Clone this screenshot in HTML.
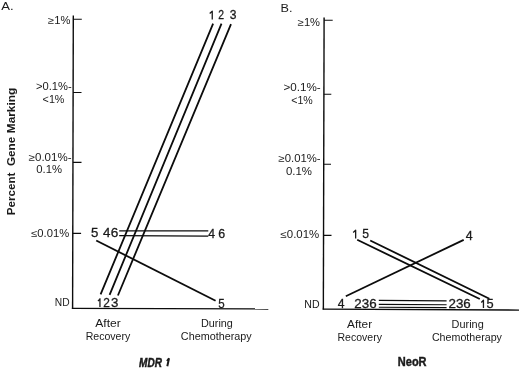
<!DOCTYPE html>
<html>
<head>
<meta charset="utf-8">
<title>Gene marking</title>
<style>
html,body{margin:0;padding:0;background:#fff;}
body{width:520px;height:368px;overflow:hidden;}
svg{display:block;}
text{font-family:"Liberation Sans",sans-serif;fill:#1a1a1a;}
.ln{stroke:#0c0c0c;stroke-width:1.8;fill:none;}
.th{stroke:#0c0c0c;stroke-width:1.2;fill:none;}
.ax{stroke:#0c0c0c;stroke-width:1.4;fill:none;}
.tk{stroke:#0c0c0c;stroke-width:1.15;fill:none;}
</style>
</head>
<body>
<svg width="520" height="368" viewBox="0 0 520 368">
<defs><filter id="tf" x="0" y="0" width="520" height="368" filterUnits="userSpaceOnUse"><feOffset dx="0" dy="0"/></filter></defs>
<rect width="520" height="368" fill="#fff"/>
<g id="lines">
<path class="ax" d="M73.3 15.5L72.6 308.9"/>
<path class="ax" d="M71.9 308.35L268.3 309" style="stroke-width:1.3"/>
<path class="tk" d="M73.3 19.25H81.8M73.1 92.45H81.5M72.95 162.3H81.5M72.8 233.4H81.1"/>
<path class="ln" d="M100.6 294.4L213.1 23.65M109.6 294.8L221.5 23.65M117.9 295.5L231 24.2"/>
<path class="th" d="M119.2 230.8L208.3 230.95M119.2 235.6L208.3 236.2"/>
<path class="ln" d="M96.2 240.5L215.6 300.8"/>
<path class="ax" d="M324.1 17.6L323.35 309.6"/>
<path class="ax" d="M322.65 309.1L519 310.05" style="stroke-width:1.3"/>
<path class="tk" d="M324.1 20.25H332.7M323.9 94.2H331.3M323.7 164.2H331M323.5 235.3H331.5"/>
<path class="ln" d="M357.2 239.8L479.8 299M370.2 240.5L489.4 298.7"/>
<path class="ln" d="M345.8 296.2L463.7 239.85"/>
<path class="th" d="M378.8 300.4L446.6 300.9M378.8 304.45L446.6 304.75M378.8 307.25L446.6 307.6"/>
</g>
<g id="texts" filter="url(#tf)">
<text id="A" x="1.32" y="9.89" textLength="12.38" lengthAdjust="spacingAndGlyphs" style="font-size:11.2px">A.</text>
<text id="l1" x="48.06" y="24.08" textLength="22.32" lengthAdjust="spacingAndGlyphs" style="font-size:10.2px">≥1%</text>
<text id="l2a" x="35.94" y="90.46" textLength="35.69" lengthAdjust="spacingAndGlyphs" style="font-size:10.2px">&gt;0.1%-</text>
<text id="l2b" x="42.64" y="102.73" textLength="21.81" lengthAdjust="spacingAndGlyphs" style="font-size:10.2px">&lt;1%</text>
<text id="l3a" x="28.71" y="160.83" textLength="42.80" lengthAdjust="spacingAndGlyphs" style="font-size:10.2px">≥0.01%-</text>
<text id="l3b" x="36.33" y="173.15" textLength="25.80" lengthAdjust="spacingAndGlyphs" style="font-size:10.2px">0.1%</text>
<text id="l4" x="31.20" y="237.37" textLength="38.02" lengthAdjust="spacingAndGlyphs" style="font-size:10.2px">≤0.01%</text>
<text id="lnd" x="54.75" y="305.95" textLength="14.81" lengthAdjust="spacingAndGlyphs" style="font-size:10px">ND</text>
<path id="t1" d="M209.70 13.45L212.25 11.15V19.40" style="fill:none;stroke:#1a1a1a;stroke-width:1.30;stroke-linejoin:round"/>
<text id="t2" x="218.33" y="19.13" textLength="5.77" lengthAdjust="spacingAndGlyphs" style="font-size:13px;stroke:#1a1a1a;stroke-width:0.3">2</text>
<text id="t3" x="229.75" y="19.06" textLength="6.72" lengthAdjust="spacingAndGlyphs" style="font-size:13px;stroke:#1a1a1a;stroke-width:0.3">3</text>
<path id="b1" d="M98.00 301.10L99.95 298.80V307.10" style="fill:none;stroke:#1a1a1a;stroke-width:1.30;stroke-linejoin:round"/>
<text id="b2" x="103.15" y="306.75" textLength="6.62" lengthAdjust="spacingAndGlyphs" style="font-size:13px;stroke:#1a1a1a;stroke-width:0.3">2</text>
<text id="b3" x="110.91" y="306.83" textLength="7.38" lengthAdjust="spacingAndGlyphs" style="font-size:13px;stroke:#1a1a1a;stroke-width:0.3">3</text>
<text id="m5" x="90.91" y="237.05" textLength="7.34" lengthAdjust="spacingAndGlyphs" style="font-size:13px;stroke:#1a1a1a;stroke-width:0.3">5</text>
<text id="m4" x="103.05" y="237.24" textLength="7.41" lengthAdjust="spacingAndGlyphs" style="font-size:13px;stroke:#1a1a1a;stroke-width:0.3">4</text>
<text id="m6" x="110.73" y="237.09" textLength="7.58" lengthAdjust="spacingAndGlyphs" style="font-size:13px;stroke:#1a1a1a;stroke-width:0.3">6</text>
<text id="r4" x="208.24" y="237.70" textLength="6.80" lengthAdjust="spacingAndGlyphs" style="font-size:13px;stroke:#1a1a1a;stroke-width:0.3">4</text>
<text id="r6" x="218.29" y="237.58" textLength="6.90" lengthAdjust="spacingAndGlyphs" style="font-size:13px;stroke:#1a1a1a;stroke-width:0.3">6</text>
<text id="r5" x="218.32" y="307.91" textLength="6.41" lengthAdjust="spacingAndGlyphs" style="font-size:13px;stroke:#1a1a1a;stroke-width:0.3">5</text>
<text id="xa1" x="95.26" y="326.56" textLength="25.48" lengthAdjust="spacingAndGlyphs" style="font-size:10.2px">After</text>
<text id="xa2" x="85.66" y="339.60" textLength="44.62" lengthAdjust="spacingAndGlyphs" style="font-size:10.2px">Recovery</text>
<text id="xa3" x="201.00" y="327.28" textLength="31.88" lengthAdjust="spacingAndGlyphs" style="font-size:10.2px">During</text>
<text id="xa4" x="180.89" y="340.47" textLength="70.87" lengthAdjust="spacingAndGlyphs" style="font-size:10.2px">Chemotherapy</text>
<text id="mdr" x="139.07" y="366.51" textLength="22.82" lengthAdjust="spacingAndGlyphs" style="font-size:12px;stroke:#1a1a1a;stroke-width:0.45;font-weight:bold;font-style:italic">MDR</text>
<path id="mdr1" d="M166.99 361.00L169.00 358.40L167.30 366.30" style="fill:none;stroke:#1a1a1a;stroke-width:2.00"/>
<text id="B" x="280.63" y="11.72" textLength="12.00" lengthAdjust="spacingAndGlyphs" style="font-size:11px">B.</text>
<text id="R1" x="297.77" y="26.20" textLength="22.30" lengthAdjust="spacingAndGlyphs" style="font-size:10.2px">≥1%</text>
<text id="R2a" x="283.55" y="91.43" textLength="37.16" lengthAdjust="spacingAndGlyphs" style="font-size:10.2px">&gt;0.1%-</text>
<text id="R2b" x="291.23" y="103.67" textLength="21.56" lengthAdjust="spacingAndGlyphs" style="font-size:10.2px">&lt;1%</text>
<text id="R3a" x="278.49" y="161.72" textLength="42.14" lengthAdjust="spacingAndGlyphs" style="font-size:10.2px">≥0.01%-</text>
<text id="R3b" x="285.99" y="174.70" textLength="26.07" lengthAdjust="spacingAndGlyphs" style="font-size:10.2px">0.1%</text>
<text id="R4" x="280.50" y="237.82" textLength="38.78" lengthAdjust="spacingAndGlyphs" style="font-size:10.2px">≤0.01%</text>
<text id="Rnd" x="304.25" y="307.65" textLength="15.30" lengthAdjust="spacingAndGlyphs" style="font-size:10.2px">ND</text>
<path id="q1" d="M353.20 232.50L355.65 230.20V238.50" style="fill:none;stroke:#1a1a1a;stroke-width:1.30;stroke-linejoin:round"/>
<text id="q5" x="362.15" y="238.47" textLength="6.75" lengthAdjust="spacingAndGlyphs" style="font-size:13px;stroke:#1a1a1a;stroke-width:0.3">5</text>
<text id="q4" x="337.70" y="307.50" textLength="6.77" lengthAdjust="spacingAndGlyphs" style="font-size:12.4px;stroke:#1a1a1a;stroke-width:0.3">4</text>
<text id="q236" x="354.27" y="307.74" textLength="22.33" lengthAdjust="spacingAndGlyphs" style="font-size:12.4px;stroke:#1a1a1a;stroke-width:0.3">236</text>
<text id="p236" x="448.46" y="307.98" textLength="22.29" lengthAdjust="spacingAndGlyphs" style="font-size:12.4px;stroke:#1a1a1a;stroke-width:0.3">236</text>
<path id="p1" d="M481.30 302.50L483.45 300.20V307.90" style="fill:none;stroke:#1a1a1a;stroke-width:1.30;stroke-linejoin:round"/>
<text id="p5" x="486.54" y="307.92" textLength="7.13" lengthAdjust="spacingAndGlyphs" style="font-size:12.4px;stroke:#1a1a1a;stroke-width:0.3">5</text>
<text id="p4" x="465.82" y="239.51" textLength="6.88" lengthAdjust="spacingAndGlyphs" style="font-size:12.4px;stroke:#1a1a1a;stroke-width:0.3">4</text>
<text id="xb1" x="347.12" y="327.65" textLength="24.96" lengthAdjust="spacingAndGlyphs" style="font-size:10.2px">After</text>
<text id="xb2" x="337.53" y="341.11" textLength="44.37" lengthAdjust="spacingAndGlyphs" style="font-size:10.2px">Recovery</text>
<text id="xb3" x="451.64" y="328.45" textLength="32.10" lengthAdjust="spacingAndGlyphs" style="font-size:10.2px">During</text>
<text id="xb4" x="431.91" y="340.95" textLength="70.02" lengthAdjust="spacingAndGlyphs" style="font-size:10.2px">Chemotherapy</text>
<text id="neo" x="397.80" y="365.52" textLength="28.77" lengthAdjust="spacingAndGlyphs" style="font-size:12.2px;stroke:#1a1a1a;stroke-width:0.45;font-weight:bold">NeoR</text>
<text id="y1" transform="translate(14.94,215.13) rotate(-90)" textLength="42.61" lengthAdjust="spacingAndGlyphs" style="font-size:11px;font-weight:bold">Percent</text>
<text id="y2" transform="translate(15.05,166.00) rotate(-90)" textLength="29.28" lengthAdjust="spacingAndGlyphs" style="font-size:11px;font-weight:bold">Gene</text>
<text id="y3" transform="translate(15.05,133.25) rotate(-90)" textLength="45.50" lengthAdjust="spacingAndGlyphs" style="font-size:11px;font-weight:bold">Marking</text>
</g>
</svg>
</body>
</html>
